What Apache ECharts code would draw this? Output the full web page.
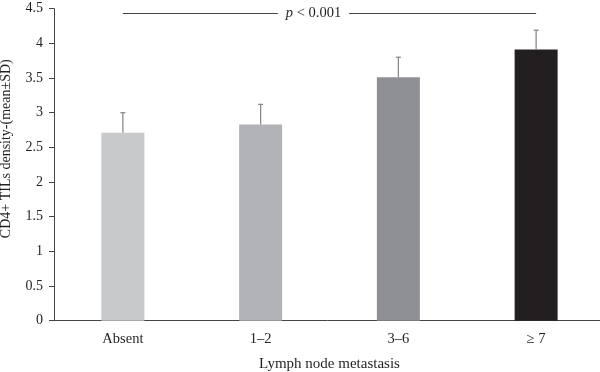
<!DOCTYPE html>
<html><head><meta charset="utf-8">
<script src="https://cdn.jsdelivr.net/npm/echarts@6/dist/echarts.min.js"></script>
<style>html,body{margin:0;padding:0;background:#fff}#c{width:600px;height:372px}</style>
</head><body><div id="c"></div>
<script>
const categories = ['Absent', '1\u20132', '3\u20136', '\u2265 7'];
const means = [2.71, 2.83, 3.51, 3.91];
const sds = [0.29, 0.29, 0.29, 0.28];
const barColors = ['#c8c9cb', '#b2b3b6', '#8f9094', '#231f20'];
const yTicks = [0, 0.5, 1, 1.5, 2, 2.5, 3, 3.5, 4, 4.5];
const pLabel = 'p < 0.001';
const pLevel = 4.43;

const font = 'Liberation Serif';
const chart = echarts.init(document.getElementById('c'));
chart.setOption({
  animation: false,
  grid: { left: 54, right: -5, top: 8.7, bottom: 51.3, containLabel: false, outerBoundsMode: 'none' },
  xAxis: {
    type: 'category', data: categories,
    name: 'Lymph node metastasis', nameLocation: 'middle', nameGap: 36,
    nameTextStyle: { fontFamily: font, fontSize: 15, color: '#231f20' },
    axisLine: { lineStyle: { color: '#444', width: 1 } },
    axisTick: { alignWithLabel: true, length: 5, lineStyle: { color: '#444' } },
    axisLabel: { fontFamily: font, fontSize: 14.5, color: '#231f20', margin: 11 }
  },
  yAxis: {
    type: 'value', min: 0, max: 4.5, interval: 0.5,
    name: 'CD4+ TILs density-(mean\u00b1SD)', nameLocation: 'middle', nameGap: 41,
    nameTextStyle: { fontFamily: font, fontSize: 14, color: '#231f20', padding: [0, 0, 0, 32] },
    axisLine: { show: true, lineStyle: { color: '#444', width: 1 } },
    axisTick: { show: true, length: 5, lineStyle: { color: '#444' } },
    splitLine: { show: false },
    axisLabel: { fontFamily: font, fontSize: 14, color: '#231f20', margin: 11,
      formatter: v => yTicks.includes(v) ? String(v) : '' }
  },
  series: [
    {
      type: 'bar', barWidth: 43, z: 2,
      data: means.map((m, i) => ({ value: m, itemStyle: { color: barColors[i] } })),
      markLine: {
        symbol: 'none', silent: true,
        lineStyle: { color: '#444', width: 1, type: 'solid' },
        label: {
          show: true, position: 'middle', distance: 0, verticalAlign: 'middle', offset: [-16, 0],
          formatter: '{i|p} < 0.001',
          backgroundColor: '#fff', padding: [2, 8], fontFamily: font, fontSize: 14.5, color: '#231f20',
          rich: { i: { fontStyle: 'italic', fontFamily: font, fontSize: 14.5, color: '#231f20' } }
        },
        data: [[{ coord: [0, pLevel] }, { coord: [3, pLevel] }]]
      }
    },
    {
      type: 'custom', z: 3,
      data: means.map((m, i) => [i, m, m + sds[i]]),
      renderItem: (params, api) => {
        const b = api.coord([api.value(0), api.value(1)]);
        const t = api.coord([api.value(0), api.value(2)]);
        const st = { stroke: '#8a8a8a', lineWidth: 1.3 };
        return { type: 'group', children: [
          { type: 'line', shape: { x1: b[0], y1: b[1], x2: t[0], y2: t[1] }, style: st },
          { type: 'line', shape: { x1: t[0] - 2.5, y1: t[1], x2: t[0] + 2.5, y2: t[1] }, style: st }
        ]};
      }
    }
  ]
});
</script></body></html>
